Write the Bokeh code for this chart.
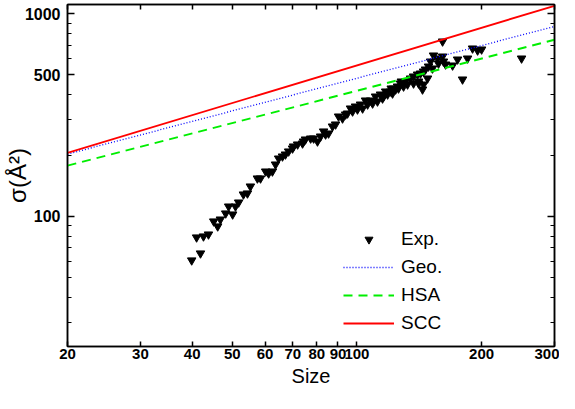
from bokeh.plotting import figure
from bokeh.models import (FixedTicker, LogAxis, NumeralTickFormatter, Legend, LegendItem,
                          CustomLabelingPolicy)
from bokeh.embed import file_html
from bokeh.resources import INLINE

# Experimental data (Size, sigma in A^2)
exp_size = [39.9, 41.0, 41.9, 42.6, 43.8, 45.1, 46.1, 46.8, 48.2, 49.0, 50.1, 50.9, 51.8,
            53.2, 54.4, 55.3, 57.5, 58.5, 60.2, 61.2, 62.5, 63.6, 64.7, 66.1, 67.2, 68.4,
            69.9, 70.3, 71.9, 73.9, 74.3, 75.1, 77.3, 78.6, 80.3, 81.7, 83.1, 84.0, 85.4,
            87.3, 88.8, 90.3, 92.3, 93.9, 94.9, 96.5, 97.6, 99.2, 100.3, 102.0, 103.2,
            104.9, 106.1, 107.9, 109.1, 110.9, 112.1, 114.0, 115.3, 116.0, 117.3, 118.6,
            120.6, 121.0, 121.9, 122.6, 124.0, 125.3, 126.0, 127.4, 128.0, 129.6, 131.0,
            132.5, 134.7, 137.0, 137.0, 140.1, 140.9, 140.9, 142.4, 144.0, 144.8, 144.8,
            146.4, 148.1, 148.9, 150.6, 152.2, 153.1, 156.5, 157.4, 161.0, 161.0, 161.8,
            163.7, 170.2, 175.0, 179.9, 185.0, 190.2, 195.6, 200.0, 249.8]
exp_sigma = [60.7, 78.8, 65.7, 79.7, 81.5, 94.5, 89.3, 96.6, 103.5, 112.0, 102.3, 112.0, 117.2,
             128.4, 129.9, 140.6, 154.0, 154.0, 166.7, 163.0, 166.7, 180.5, 193.2, 197.7, 202.2, 209.3,
             216.5, 221.5, 226.6, 229.2, 234.4, 239.8, 242.5, 242.5, 234.4, 248.1, 262.7, 253.8, 256.7,
             278.0, 284.4, 311.4, 304.5, 318.6, 322.2, 341.1, 329.6, 348.8, 337.2, 356.8, 341.1,
             373.5, 356.8, 373.5, 360.9, 390.8, 369.2, 399.8, 382.0, 390.8, 413.7, 399.8,
             413.7, 428.0, 404.4, 428.0, 423.2, 437.8, 428.0, 453.0, 463.4, 437.8, 463.4,
             447.9, 479.6, 453.0, 490.6, 501.8, 463.4, 453.0, 507.6, 423.2, 519.2, 447.9,
             531.1, 479.6, 549.5, 581.7, 537.2, 622.8, 601.9, 568.6, 730.2, 615.7, 581.7,
             562.2, 555.8, 595.1, 474.2, 601.9, 674.4, 659.2, 666.8, 601.9]

# Model lines (end points on log-log scale)
model_size = [20, 300]
geo_sigma = [203, 866]
hsa_sigma = [178, 744]
scc_sigma = [206, 1095]

x_ticks = [20, 30, 40, 50, 60, 70, 80, 90, 100, 200, 300]
y_ticks = [100, 500, 1000]
y_minor = [30, 40, 50, 60, 70, 80, 90, 200, 300, 400, 600, 700, 800, 900]

p = figure(width=559, height=389, x_axis_type="log", y_axis_type="log",
           x_range=(20, 300), y_range=(22.8, 1111),
           output_backend="svg", toolbar_location=None,
           min_border_left=0, min_border_top=0, min_border_right=0, min_border_bottom=0)
p.xgrid.visible = False
p.ygrid.visible = False
p.outline_line_color = "black"
p.outline_line_width = 1.5
p.background_fill_color = "white"
p.border_fill_color = "white"

r_exp = p.scatter(exp_size, exp_sigma, marker="inverted_triangle", size=8.5,
                  fill_color="black", line_color="black")
r_geo = p.line(model_size, geo_sigma, line_color="#0000FF", line_width=1.3, line_dash="1 2")
r_hsa = p.line(model_size, hsa_sigma, line_color="#00EE00", line_width=2, line_dash="9 6")
r_scc = p.line(model_size, scc_sigma, line_color="#FF0000", line_width=1.8)

def style_axis(ax, size="15px"):
    ax.axis_line_color = "black"
    ax.axis_line_width = 1.5
    ax.major_tick_line_color = "black"
    ax.major_tick_line_width = 1.5
    ax.minor_tick_line_color = "black"
    ax.minor_tick_line_width = 1.2
    ax.major_tick_out = 0
    ax.minor_tick_out = 0
    ax.major_tick_in = 7
    ax.minor_tick_in = 4
    ax.major_label_text_font = "Liberation Sans"
    ax.major_label_text_font_style = "bold"
    ax.major_label_text_font_size = size
    ax.major_label_text_color = "black"
    ax.formatter = NumeralTickFormatter(format="0")

hide_labels = CustomLabelingPolicy(code="for (const i of indices) { indices.unset(i) } return indices")

xt = FixedTicker(ticks=x_ticks, minor_ticks=[])
yt = FixedTicker(ticks=y_ticks, minor_ticks=y_minor)

xa = p.xaxis[0]
xa.ticker = xt
style_axis(xa, "15px")
xa.major_tick_in = 5
xa.major_label_standoff = 2
if "major_label_text_line_height" in xa.properties():
    xa.major_label_text_line_height = 1.0
xa.axis_label = "Size"
xa.axis_label_text_font = "Liberation Sans"
xa.axis_label_text_font_style = "normal"
xa.axis_label_text_font_size = "20px"
xa.axis_label_text_color = "black"
xa.axis_label_text_line_height = 1.0
xa.axis_label_standoff = 3

ya = p.yaxis[0]
ya.ticker = yt
style_axis(ya, "16px")
ya.major_label_standoff = 7
ya.axis_label = "σ(Å²)"
ya.axis_label_text_font = "Liberation Sans"
ya.axis_label_text_font_style = "normal"
ya.axis_label_text_font_size = "24px"
ya.axis_label_text_color = "black"
ya.axis_label_standoff = -9

top = LogAxis(ticker=xt)
style_axis(top, "1px")
top.major_tick_in = 5
top.major_label_policy = hide_labels
top.major_label_standoff = 0
top.axis_label_standoff = 0
p.add_layout(top, "above")

right = LogAxis(ticker=yt)
style_axis(right, "1px")
right.major_label_policy = hide_labels
right.major_label_standoff = 0
right.axis_label_standoff = 0
p.add_layout(right, "right")

legend = Legend(items=[LegendItem(label="Exp.", renderers=[r_exp]),
                       LegendItem(label="Geo.", renderers=[r_geo]),
                       LegendItem(label="HSA", renderers=[r_hsa]),
                       LegendItem(label="SCC", renderers=[r_scc])],
                location=(276, 12), padding=0, margin=0, spacing=6,
                glyph_width=51, glyph_height=20, label_height=20, label_standoff=7,
                label_text_font="Liberation Sans", label_text_font_size="19px",
                label_text_color="black",
                border_line_alpha=0, background_fill_alpha=0)
p.add_layout(legend)

open("out.html", "w").write(file_html(p, INLINE))
